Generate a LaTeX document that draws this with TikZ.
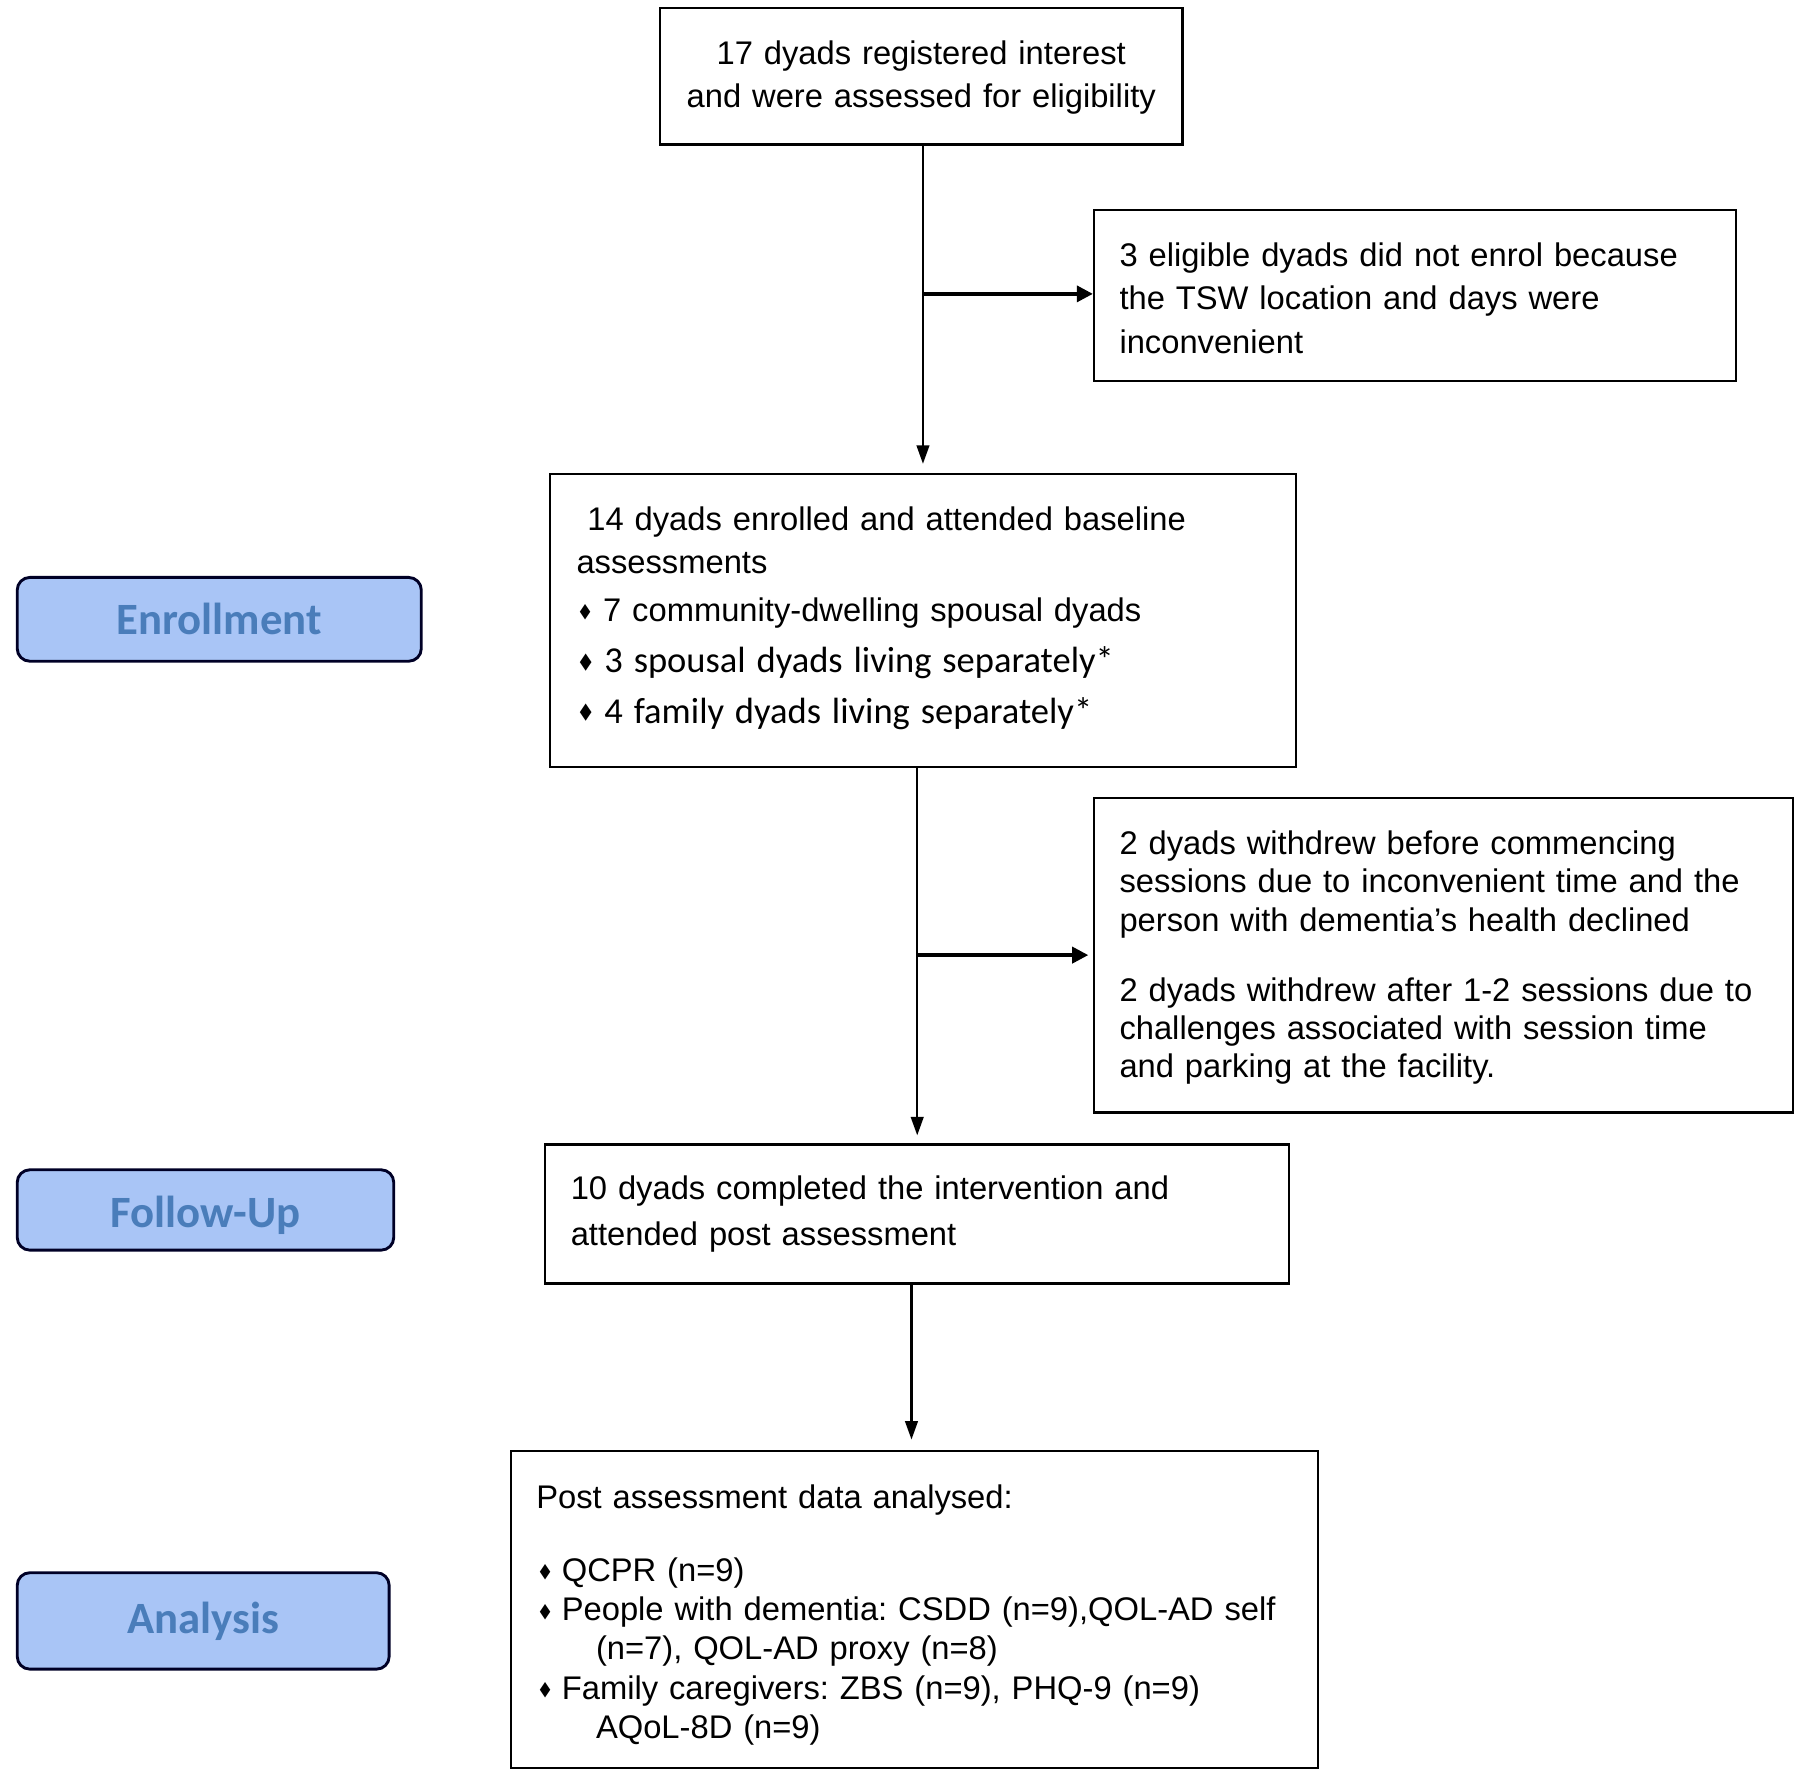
\documentclass[tikz,border=0pt]{standalone}
\usepackage{fontspec}
\setmainfont{Liberation Sans}
\newfontfamily\calfont{Carlito}
\newfontfamily\djfont{DejaVu Sans}
\usetikzlibrary{arrows.meta}
\definecolor{phasefill}{HTML}{A9C5F6}
\definecolor{phasetext}{HTML}{4A7DBA}
\newcommand\dia{\raisebox{0.12em}{\djfont\scalebox{0.42}[0.62]{◆}}}
\frenchspacing
\tikzset{
  box/.style={draw=black, line width=2pt, rectangle, inner sep=0pt},
  phase/.style={draw=black!85!blue, line width=2.5pt, fill=phasefill, rounded corners=11pt,
     inner sep=0pt, font=\calfont\bfseries\fontsize{39}{44}\selectfont, text=phasetext},
  txt/.style={inner sep=0pt, anchor=base west, align=left, font=\fontsize{28.5}{38}\selectfont},
  vline/.style={line width=1.8pt, -{Triangle[length=16pt,width=11pt]}},
  hline/.style={line width=3pt, -{Triangle[length=14pt,width=14pt]}},
}
\begin{document}
\begin{tikzpicture}[x=1pt,y=-1pt]
\useasboundingbox (0,0) rectangle (1568,1547);
% boxes
\node[box, minimum width=455pt, minimum height=119pt] (b1) at (802.5,66.5) {};
\node[box, minimum width=559pt, minimum height=149pt] (b3) at (1232.5,257.5) {};
\node[box, minimum width=650pt, minimum height=255pt] (b4) at (804,540.5) {};
\node[box, minimum width=609pt, minimum height=274pt] (b6) at (1257.5,832) {};
\node[box, minimum width=648pt, minimum height=121pt] (b5) at (799,1057.5) {};
\node[box, minimum width=703pt, minimum height=276pt] (b7) at (796.5,1402) {};
% phase labels
\node[phase, minimum width=352pt, minimum height=73pt] (p1) at (191,539.5) {Enrollment};
\node[phase, minimum width=328pt, minimum height=70pt] (p2) at (179,1054) {\raisebox{-6pt}[28pt][9pt]{Follow-Up}};
\node[phase, minimum width=324pt, minimum height=84pt] (p3) at (177,1412) {Analysis};
% texts
\node[txt, anchor=base, align=center, text width=455pt] (t1) at (802.5,56) {17 dyads registered interest\\and were assessed for eligibility};
\node[txt, text width=540pt] (t3) at (975,232) {3 eligible dyads did not enrol because\\the TSW location and days were\\inconvenient};
\node[txt, text width=620pt] (t4) at (502,462) {\ 14 dyads enrolled and attended baseline\\assessments\\[3pt]
\hspace*{3pt}\dia\hspace*{11pt}7 community-dwelling spousal dyads\\[7pt]
{\calfont\fontsize{31.8}{38}\selectfont\hspace*{3pt}\dia\hspace*{11pt}3 spousal dyads living separately*}\\[6pt]
{\calfont\fontsize{31.8}{38}\selectfont\hspace*{3pt}\dia\hspace*{11pt}4 family dyads living separately*}};
\node[txt, text width=600pt, font=\fontsize{28.5}{33.5}\selectfont] (t6) at (975,744) {2 dyads withdrew before commencing\\sessions due to inconvenient time and the\\person with dementia’s health declined\\[27.5pt]
2 dyads withdrew after 1-2 sessions due to\\challenges associated with session time\\and parking at the facility.};
\node[txt, text width=620pt, font=\fontsize{28.5}{40}\selectfont] (t5) at (497,1045) {10 dyads completed the intervention and\\attended post assessment};
\node[txt, text width=690pt, font=\fontsize{28.5}{34}\selectfont] (t7) at (467,1314) {Post assessment data analysed:\\[30pt]
\hspace*{3pt}\dia\hspace*{10pt}QCPR (n=9)\\
\hspace*{3pt}\dia\hspace*{10pt}People with dementia: CSDD (n=9),QOL-AD self\\
\hspace*{52pt}(n=7), QOL-AD proxy (n=8)\\
\hspace*{3pt}\dia\hspace*{10pt}Family caregivers: ZBS (n=9), PHQ-9 (n=9)\\
\hspace*{52pt}AQoL-8D (n=9)};
% connectors
\coordinate (j1) at (804,256);
\coordinate (j2) at (799,832);
\draw[vline, shorten >=8pt] (b1.south -| b4.north) -- (b4.north);
\draw[hline] (j1) -- (j1 -| b3.west);
\draw[vline, shorten >=7pt] (b5.north |- b4.south) -- (b5.north);
\draw[hline, shorten >=4pt] (j2) -- (b6.west);
\draw[vline, shorten >=9pt] (794,1118) coordinate (j3) -- (j3 |- b7.north);
\end{tikzpicture}
\end{document}
